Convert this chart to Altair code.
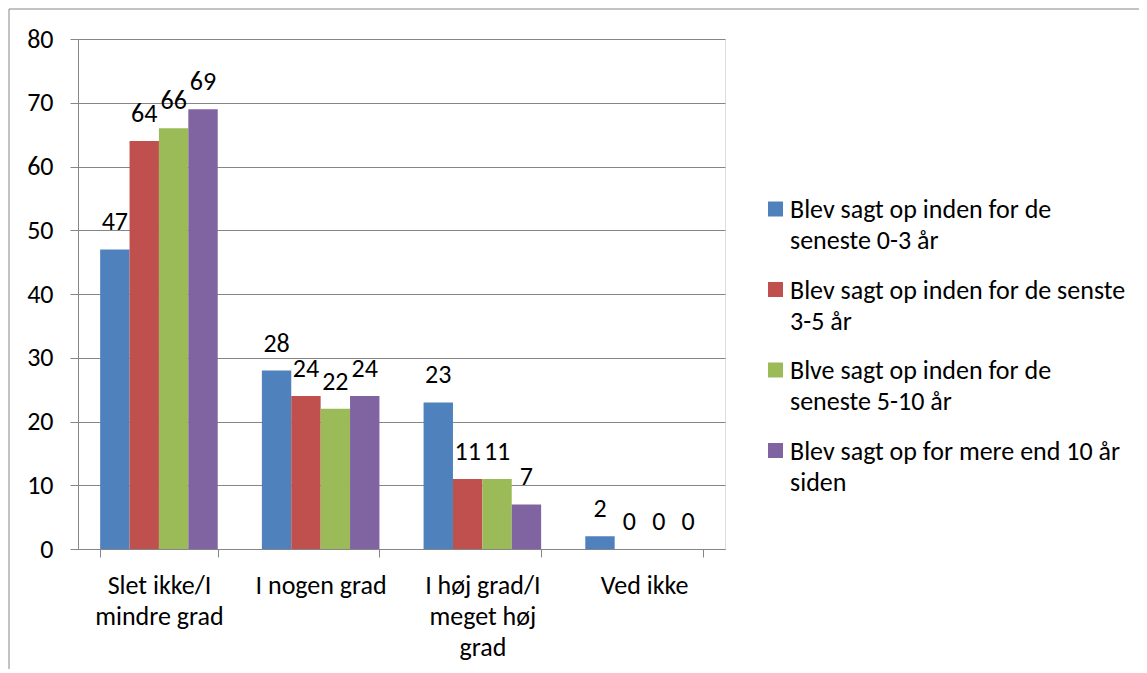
import altair as alt
import pandas as pd

FONT = "Carlito, Lato, sans-serif"
GRAY = "#868686"
FS = 26

categories = ["Slet ikke/I\nmindre grad", "I nogen grad", "I høj grad/I\nmeget høj\ngrad", "Ved ikke"]
series = [
    "Blev sagt op inden for de\nseneste 0-3 år",
    "Blev sagt op inden for de senste\n3-5 år",
    "Blve sagt op inden for de\nseneste 5-10 år",
    "Blev sagt op for mere end 10 år\nsiden",
]
values_0_3 = [47, 28, 23, 2]
values_3_5 = [64, 24, 11, 0]
values_5_10 = [66, 22, 11, 0]
values_10_plus = [69, 24, 7, 0]
colors = ["#4F81BD", "#C0504D", "#9BBB59", "#8064A2"]
y_ticks = [0, 10, 20, 30, 40, 50, 60, 70, 80]

all_values = [values_0_3, values_3_5, values_5_10, values_10_plus]
rows = []
for s, vals in zip(series, all_values):
    for c, v in zip(categories, vals):
        rows.append({"category": c, "series": s, "value": v})
df = pd.DataFrame(rows)
legend_df = pd.DataFrame({"series": series})
frame_df = pd.DataFrame({"k": [0]})

color_enc = alt.Color("series:N", scale=alt.Scale(domain=series, range=colors), legend=None)

x_enc = alt.X(
    "category:N",
    sort=categories,
    scale=alt.Scale(paddingInner=0.273, paddingOuter=0.137),
    axis=alt.Axis(
        title=None, labelAngle=0, tickBand="extent", tickSize=8, tickColor=GRAY,
        domainColor=GRAY, labelPadding=15, labelLineHeight=31, labelFontSize=FS,
        labelFont=FONT, labelColor="black", labelExpr="split(datum.label, '\\n')",
        grid=False, labelLimit=300,
    ),
)
xoff_enc = alt.XOffset("series:N", sort=series, scale=alt.Scale(paddingInner=0, paddingOuter=0))
y_enc = alt.Y(
    "value:Q",
    scale=alt.Scale(domain=[0, 80], nice=False),
    axis=alt.Axis(
        title=None, values=y_ticks, tickSize=8, tickColor=GRAY, domainColor=GRAY,
        gridColor=GRAY, grid=True, labelPadding=17, labelFontSize=FS, labelFont=FONT,
        labelColor="black",
    ),
)

bars = alt.Chart(df).mark_bar().encode(x=x_enc, xOffset=xoff_enc, y=y_enc, color=color_enc)
labels = alt.Chart(df).mark_text(
    baseline="alphabetic", dy=-19, fontSize=FS, font=FONT, color="black"
).encode(x=x_enc, xOffset=xoff_enc, y=alt.Y("value:Q", scale=alt.Scale(domain=[0, 80], nice=False)),
         text="value:Q")
main = alt.layer(bars, labels)

leg_y = alt.Y("series:N", sort=series, axis=None,
              scale=alt.Scale(type="point", range=[170, 411.5], padding=0))
squares = alt.Chart(legend_df).mark_square(size=225, opacity=1).encode(
    x=alt.value(697.5), y=leg_y, color=color_enc
)
texts = alt.Chart(legend_df).mark_text(
    align="left", baseline="alphabetic", dy=9, fontSize=FS, font=FONT, color="black",
    lineBreak="\n", lineHeight=31,
).encode(x=alt.value(712), y=leg_y, text="series:N")
legend = alt.layer(squares, texts)

frame = alt.Chart(frame_df).mark_rect(fillOpacity=0, stroke=GRAY, strokeWidth=1).encode(
    x=alt.value(-69), x2=alt.value(1200), y=alt.value(-30), y2=alt.value(700)
)

chart = alt.layer(frame, main, legend).resolve_scale(y="independent").properties(
    width=647, height=510,
    autosize=alt.AutoSizeParams(type="none"),
    padding={"left": 70, "top": 31, "right": 414, "bottom": 120},
).configure_view(stroke=None).configure(background="white")

chart.save("out.html", embed_options={"renderer": "svg", "actions": False})
